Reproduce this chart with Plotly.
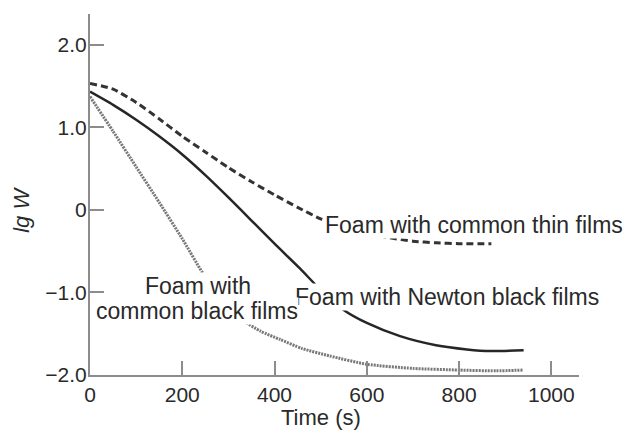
import plotly.graph_objects as go

# Data
t_thin = [0, 50, 100, 150, 200, 250, 300, 350, 400, 450, 500, 550, 600, 650, 700, 750, 800, 870]
lgW_thin = [1.53, 1.46, 1.30, 1.10, 0.89, 0.70, 0.51, 0.34, 0.18, 0.03, -0.11, -0.21, -0.28, -0.34, -0.38, -0.40, -0.41, -0.41]

t_newton = [0, 50, 100, 150, 200, 250, 300, 350, 400, 455, 500, 549, 600, 672, 750, 817, 870, 940]
lgW_newton = [1.43, 1.27, 1.09, 0.89, 0.67, 0.42, 0.15, -0.13, -0.41, -0.71, -0.97, -1.21, -1.37, -1.53, -1.64, -1.69, -1.71, -1.70]

t_black = [0, 50, 100, 150, 200, 245, 290, 332, 370, 412, 460, 520, 600, 700, 800, 880, 940]
lgW_black = [1.37, 0.95, 0.52, 0.09, -0.35, -0.77, -1.10, -1.34, -1.47, -1.57, -1.68, -1.77, -1.87, -1.92, -1.94, -1.95, -1.94]

x_ticks = [0, 200, 400, 600, 800, 1000]
x_ticktext = ["0", "200", "400", "600", "800", "1000"]
y_ticks = [2, 1, 0, -1, -2]
y_ticktext = ["2.0", "1.0", "0", "\u22121.0", "\u22122.0"]

label_thin = "Foam with common thin films"
label_newton = "Foam with Newton black films"
label_black_1 = "Foam with"
label_black_2 = "common black films"
x_title = "Time (s)"
y_title = "<i>lg W</i>"

FONT = "Liberation Sans, Arial, sans-serif"
TXT = "#2a2a2a"
AX = "#8c8c8c"

fig = go.Figure()
fig.add_trace(go.Scatter(x=t_black, y=lgW_black, mode="lines",
                         line=dict(color="#787878", width=3, dash="2px,1px", shape="spline", smoothing=0.6),
                         showlegend=False, hoverinfo="skip"))
fig.add_trace(go.Scatter(x=t_newton, y=lgW_newton, mode="lines",
                         line=dict(color="#262626", width=2.5, shape="spline", smoothing=0.6),
                         showlegend=False, hoverinfo="skip"))
fig.add_trace(go.Scatter(x=t_thin, y=lgW_thin, mode="lines",
                         line=dict(color="#333333", width=3, dash="7px,4px", shape="spline", smoothing=0.6),
                         showlegend=False, hoverinfo="skip"))

ann_font = dict(family=FONT, size=23, color=TXT)
fig.add_annotation(x=833, y=-0.18, xref="x", yref="y", text=label_thin, showarrow=False,
                   font=ann_font, bgcolor="white", borderpad=0)
fig.add_annotation(x=773, y=-1.05, xref="x", yref="y", text=label_newton, showarrow=False,
                   font=ann_font, bgcolor="white", borderpad=0)
fig.add_annotation(x=234, y=-0.92, xref="x", yref="y", text=label_black_1, showarrow=False,
                   font=ann_font, bgcolor="white", borderpad=0)
fig.add_annotation(x=233, y=-1.22, xref="x", yref="y", text=label_black_2, showarrow=False,
                   font=ann_font, bgcolor="white", borderpad=0)
# Axis titles
fig.add_annotation(x=500, y=-0.118, xref="x", yref="paper", text=x_title, showarrow=False,
                   font=dict(family=FONT, size=22, color=TXT), yanchor="middle")
fig.add_annotation(x=-0.139, y=0, xref="paper", yref="y", text=y_title, showarrow=False,
                   font=dict(family=FONT, size=22, color=TXT), textangle=-90,
                   xanchor="center", yanchor="middle")

fig.update_layout(
    width=627, height=432,
    margin=dict(l=90, r=48, t=14, b=57),
    paper_bgcolor="white", plot_bgcolor="white",
    font=dict(family=FONT, color=TXT),
)
fig.update_xaxes(range=[0, 1060], tickvals=x_ticks, ticktext=x_ticktext,
                 showline=True, linecolor=AX, linewidth=2, ticks="inside", ticklen=14,
                 tickwidth=2, tickcolor=AX, showgrid=False, zeroline=False,
                 tickfont=dict(family=FONT, size=21, color=TXT))
fig.update_yaxes(range=[-2.0, 2.37], tickvals=y_ticks, ticktext=y_ticktext,
                 showline=True, linecolor=AX, linewidth=2, ticks="inside", ticklen=14,
                 tickwidth=2, tickcolor=AX, showgrid=False, zeroline=False,
                 ticklabelstandoff=-3,
                 tickfont=dict(family=FONT, size=21, color=TXT))

fig.write_html("out.html")
